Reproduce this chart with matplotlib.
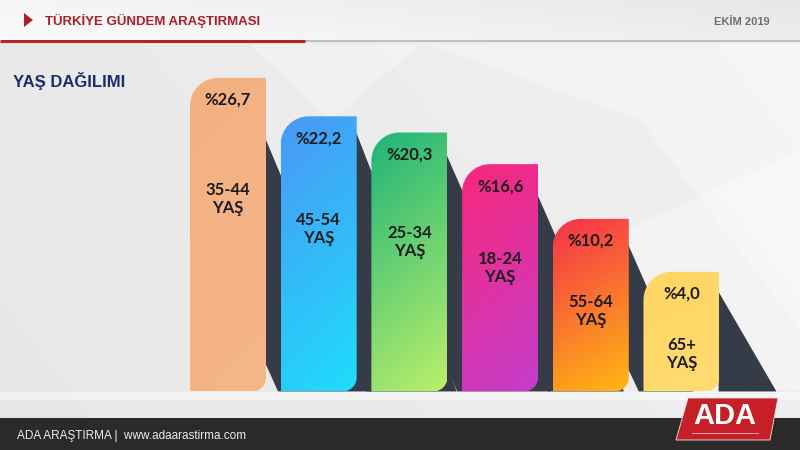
import numpy as np
import matplotlib
matplotlib.use("Agg")
import matplotlib.pyplot as plt
from matplotlib.path import Path
from matplotlib.patches import PathPatch, Polygon, Rectangle
from matplotlib.colors import to_rgb

# ---------------- data ----------------
age_groups = ["35-44", "45-54", "25-34", "18-24", "55-64", "65+"]
shares = [26.7, 22.2, 20.3, 16.6, 10.2, 4.0]
unit_label = "YAŞ"
title_text = "TÜRKİYE GÜNDEM ARAŞTIRMASI"
date_text = "EKİM 2019"
section_text = "YAŞ DAĞILIMI"
footer_text = "ADA ARAŞTIRMA |  www.adaarastirma.com"
logo_text = "ADA"

# ---------------- styles ----------------
bar_grad = [("#F3B181", "#F5B688"), ("#4A97F5", "#1EDDFB"), ("#1DB47A", "#BCEF6A"),
            ("#F8287A", "#C43DCB"), ("#F5304C", "#FFB812"), ("#FFD665", "#FFDB70")]
shadow_color = "#363C47"
shadow_drop_px = [60, 15, 22, 30, 25, 20]
shadow_slope = [2.4, 2.6, 2.3, 2.3, 2.3, 1.75]
shadow_gap_px = [12, 10, 10, 10, 10, 0]

W, H = 800, 450
X0, DX = 228.0, 90.7      # pixel centre of first bar, pixel spacing
Y0, SY = 306.0, 8.544     # pixel row of value 0, pixels per percentage point
BASE = -10.0
BAR_W = 76 / DX

plt.rcParams['font.family'] = ['Lato', 'DejaVu Sans']

fig = plt.figure(figsize=(8, 4.5), dpi=100)

# ---------- background (pixel coordinates) ----------
bg = fig.add_axes([0, 0, 1, 1])
bg.set_xlim(0, W)
bg.set_ylim(H, 0)
bg.axis('off')
yy, xx = np.mgrid[0:H, 0:W]
g = 234 + 7 * (xx / W) - 3 * (yy / H)
img = np.dstack([g, g, g]) / 255.0
bg.imshow(np.clip(img, 0, 1), extent=(0, W, H, 0), aspect='auto', zorder=0)
# light facets
for poly, a in [([(430, 45), (800, 45), (800, 330), (640, 120)], 0.35),
                ([(560, 260), (800, 150), (800, 390), (700, 392)], 0.3),
                ([(250, 45), (420, 45), (330, 120)], 0.3)]:
    bg.add_patch(Polygon(poly, closed=True, facecolor='white', edgecolor='none', alpha=a, zorder=1))
# header band
hx = np.linspace(0, 1, W)
hg = 251 - 14 * hx
himg = np.tile(hg, (40, 1))
himg = himg - np.linspace(6, 0, 40)[:, None]
bg.imshow(np.dstack([himg] * 3) / 255.0, extent=(0, W, 40, 0), aspect='auto', zorder=2)
bg.plot([305, W], [40.5, 40.5], color='#B9B9B9', lw=1.3, zorder=3, solid_capstyle='butt')
bg.plot([0, 305], [40.5, 40.5], color='#B2262B', lw=2.2, zorder=3, solid_capstyle='butt')
bg.add_patch(Polygon([(24, 13), (24, 27), (33, 20)], closed=True, facecolor='#AC1F26',
                     edgecolor='none', zorder=4))
bg.text(45, 21, title_text, color='#A92029', fontsize=9.5, fontweight='bold',
        family=['Liberation Sans', 'DejaVu Sans'], va='center', ha='left', zorder=4)
bg.text(770, 22, date_text, color='#6E6E6E', fontsize=8, fontweight='bold',
        family=['Liberation Sans', 'DejaVu Sans'], va='center', ha='right', zorder=4)
bg.text(13, 81, section_text, color='#1C2D6B', fontsize=12, fontweight='bold',
        family=['Liberation Sans', 'DejaVu Sans'], va='center', ha='left', zorder=4)
# floor highlight
bg.add_patch(Rectangle((0, 392), W, 8, facecolor='white', edgecolor='none', alpha=0.45, zorder=1))
# footer
bg.add_patch(Rectangle((0, 418), W, 32, facecolor='#2B2A29', edgecolor='none', zorder=4))
bg.text(17, 436, footer_text, color='#EDEDED', fontsize=8.5,
        family=['Liberation Sans', 'DejaVu Sans'], va='center', ha='left', zorder=5)
bg.add_patch(Polygon([(688, 398), (778, 398), (770, 440), (676, 440)], closed=True,
                     facecolor='#C61F28', edgecolor='#E9E9E9', lw=0.6, zorder=5))
bg.text(725, 416, logo_text, color='white', fontsize=21, fontweight='bold',
        family=['Liberation Sans', 'DejaVu Sans'], va='center', ha='center', zorder=6)
bg.plot([692, 758], [433, 433], color='white', lw=0.6, alpha=0.7, zorder=6)

# ---------- bars (data coordinates) ----------
ax = fig.add_axes([0, 0, 1, 1])
ax.set_xlim(-X0 / DX, (W - X0) / DX)
ax.set_ylim(-(H - Y0) / SY, Y0 / SY)
ax.axis('off')
ax.patch.set_alpha(0)

k = 0.5523
rtx, rty = 28 / DX, 28 / SY
rbx, rby = 14 / DX, 14 / SY
n_r, n_c = 200, 80
tr = np.linspace(0, 1, n_r)[:, None]
tc = np.linspace(0, 1, n_c)[None, :]
tgrad = np.clip(0.8 * tr + 0.2 * tc, 0, 1)

for i, (age, v) in enumerate(zip(age_groups, shares)):
    xl, xr = i - BAR_W / 2, i + BAR_W / 2
    yt, yb = v, BASE
    # shadow (parallelogram band)
    d = shadow_drop_px[i] / SY
    s = shadow_slope[i]
    top_s = yt - d
    dx = (top_s - yb) * SY / s / DX
    gap = shadow_gap_px[i]
    pts = [(xr - 0.01, top_s), (xr + dx, yb)]
    if gap > 0:
        pts += [(xr + gap / DX, yb), (xr - 0.01, yb + gap * s / SY)]
    else:
        pts += [(xr - 0.01, yb)]
    ax.add_patch(Polygon(pts, closed=True, facecolor=shadow_color, edgecolor='none', zorder=2))
    # bar shape
    verts = [(xl, yb), (xl, yt - rty), (xl, yt - rty * (1 - k)), (xl + rtx * (1 - k), yt),
             (xl + rtx, yt), (xr, yt), (xr, yb + rby), (xr, yb + rby * (1 - k)),
             (xr - rbx * (1 - k), yb), (xr - rbx, yb), (xl, yb)]
    codes = [Path.MOVETO, Path.LINETO, Path.CURVE4, Path.CURVE4, Path.CURVE4, Path.LINETO,
             Path.LINETO, Path.CURVE4, Path.CURVE4, Path.CURVE4, Path.CLOSEPOLY]
    patch = PathPatch(Path(verts, codes), facecolor='none', edgecolor='none', zorder=3)
    ax.add_patch(patch)
    c1, c2 = np.array(to_rgb(bar_grad[i][0])), np.array(to_rgb(bar_grad[i][1]))
    gimg = c1[None, None, :] * (1 - tgrad[..., None]) + c2[None, None, :] * tgrad[..., None]
    im = ax.imshow(gimg, extent=(xl, xr, yb, yt), origin='upper', aspect='auto',
                   interpolation='bilinear', zorder=3)
    im.set_clip_path(patch)
    # labels
    pct = "%" + f"{v:.1f}".replace(".", ",")
    ax.text(i, yt - 22 / SY, pct, ha='center', va='center', fontsize=12,
            fontweight='bold', color='#1B1B1B', zorder=5)
    off = 0.2 * (yt - yb) + 58 / SY
    ax.text(i, yt - off, f"{age}\n{unit_label}", ha='center', va='center', fontsize=12,
            fontweight='bold', color='#1B1B1B', linespacing=1.15, zorder=5)

ax.set_xlim(-X0 / DX, (W - X0) / DX)
ax.set_ylim(-(H - Y0) / SY, Y0 / SY)

fig.savefig("out.png", dpi=100)
